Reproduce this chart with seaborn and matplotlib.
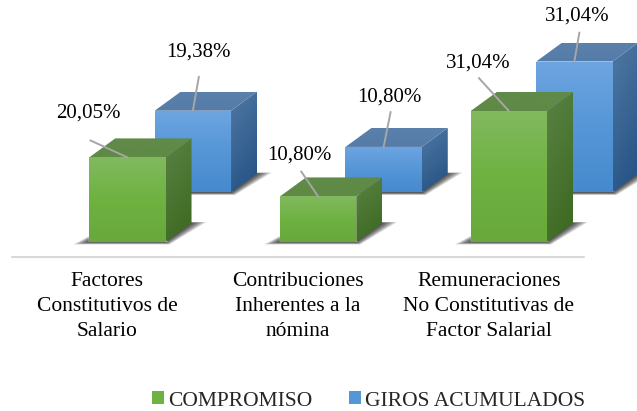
"""
Figura: Compromiso vs Giros Acumulados
Barras estilo 3D sobre seaborn, caras extra calculadas a partir de cada barra.
"""

import numpy as np
import matplotlib
matplotlib.use("Agg")
import matplotlib.pyplot as plt
import seaborn as sns
from matplotlib.colors import LinearSegmentedColormap
from matplotlib.lines import Line2D
from matplotlib.patches import Patch, Polygon
from matplotlib.transforms import ScaledTranslation

categorias = [
    "Factores\nConstitutivos de\nSalario",
    "Contribuciones\nInherentes a la\nnómina",
    "Remuneraciones\nNo Constitutivas de\nFactor Salarial",
]
compromiso = [20.05, 10.80, 31.04]
giros = [19.38, 10.80, 31.04]
series = ["COMPROMISO", "GIROS ACUMULADOS"]

W, H = 637, 411
PX_POR_CAT = 190.75
PX_POR_PCT = 4.22
PROF_X, PROF_Y = 26, 19

VERDE = {
    "frente": ["#82b95f", "#6eb241", "#69a83c"],
    "lado": ["#557f3e", "#3f6b24"],
    "tapa": ["#608a48", "#5f8a46"],
}
AZUL = {
    "frente": ["#6ea5e1", "#5596d7", "#468acd"],
    "lado": ["#4a739f", "#285587"],
    "tapa": ["#5a80ab", "#557ca8"],
}

sns.set_theme(style="white")
plt.rcParams["font.family"] = ["Liberation Serif", "DejaVu Serif"]
plt.rcParams["font.size"] = 15


def crear_ejes(fig, izq, base):
    ax = fig.add_axes([izq / W, (H - base) / H, 3 * PX_POR_CAT / W, 40 * PX_POR_PCT / H])
    ax.patch.set_alpha(0)
    return ax


def cara(ax, puntos, colores, z, mezcla_x=0.0):
    puntos = np.array(puntos)
    cmap = LinearSegmentedColormap.from_list("cara", colores)
    xx, yy = np.meshgrid(np.linspace(0, 1, 64), np.linspace(0, 1, 128))
    valores = np.clip(yy + mezcla_x * (xx - 0.5), 0, 1)
    extent = [puntos[:, 0].min(), puntos[:, 0].max(), puntos[:, 1].min(), puntos[:, 1].max()]
    im = ax.imshow(valores, cmap=cmap, vmin=0, vmax=1, extent=extent, aspect="auto",
                   origin="upper", interpolation="bilinear", zorder=z)
    borde = Polygon(puntos, closed=True, facecolor="none", edgecolor="none", transform=ax.transData)
    ax.add_patch(borde)
    im.set_clip_path(borde)


def dibujar_3d(ax, paleta):
    dx = PROF_X / PX_POR_CAT
    dy = PROF_Y / PX_POR_PCT
    ux = 1 / PX_POR_CAT
    uy = 1 / PX_POR_PCT
    ax.set_autoscale_on(False)
    for bar in list(ax.patches):
        x0, x1 = bar.get_x(), bar.get_x() + bar.get_width()
        top = bar.get_height()

        # sombra en el piso, capas suaves
        for t in np.linspace(1, 0.1, 9):
            sombra = [
                (x0 - 16 * t * ux, -2.5 * t * uy),
                (x1 + 4 * t * ux, -2.5 * t * uy),
                (x1 + dx + 15 * t * ux, dy + t * uy),
                (x0 + dx, dy + t * uy),
            ]
            ax.add_patch(Polygon(sombra, closed=True, facecolor="black", edgecolor="none",
                                 alpha=0.11, zorder=0.5, clip_on=False))

        cara(ax, [(x1, 0), (x1 + dx, dy), (x1 + dx, top + dy), (x1, top)], paleta["lado"], 3, 0.35)
        cara(ax, [(x0, top), (x1, top), (x1 + dx, top + dy), (x0 + dx, top + dy)], paleta["tapa"], 3)
        cara(ax, [(x0, 0), (x1, 0), (x1, top), (x0, top)], paleta["frente"], 4)


def etiquetas(ax, valores, desp_linea, desp_texto):
    for bar, v, dl, dt in zip(ax.patches, valores, desp_linea, desp_texto):
        xy = (bar.get_x() + bar.get_width() / 2, bar.get_height())
        ax.annotate("", xy=xy, xytext=dl, textcoords="offset pixels", zorder=6,
                    arrowprops=dict(arrowstyle="-", color="#a6a6a6", lw=1.4, shrinkA=0, shrinkB=0))
        ax.annotate(f"{v:.2f}%".replace(".", ","), xy=xy, xytext=dt, textcoords="offset pixels",
                    ha="center", va="center", color="black", fontsize=15, zorder=6)


def main():
    fig = plt.figure(figsize=(W / 100, H / 100), dpi=100)

    ax_atras = crear_ejes(fig, 97.5, 192.5)
    ax_frente = crear_ejes(fig, 32, 242)

    sns.barplot(x=categorias, y=giros, color=AZUL["frente"][1], saturation=1, width=0.4, ax=ax_atras)
    sns.barplot(x=categorias, y=compromiso, color=VERDE["frente"][1], saturation=1, width=0.4, ax=ax_frente)

    for ax in (ax_atras, ax_frente):
        ax.set_ylim(0, 40)
        ax.set_xlim(-0.5, 2.5)
        ax.set_ylabel("")
        ax.set_yticks([])
        sns.despine(ax=ax, left=True, bottom=True)

    dibujar_3d(ax_atras, AZUL)
    dibujar_3d(ax_frente, VERDE)

    etiquetas(ax_atras, giros, [(6, 34), (7, 35), (5, 29)], [(6, 59), (6, 50), (3, 45)])
    etiquetas(ax_frente, compromiso, [(-37, 17), (-17, 25), (-30, 33)], [(-39, 44), (-19, 41), (-31, 48)])

    ax_atras.set_xticks([])

    ax_frente.tick_params(axis="x", length=0, pad=21.5, labelsize=15.5, labelcolor="black")
    corrimiento = ScaledTranslation(-20 / 100, 0, fig.dpi_scale_trans)
    for lab in ax_frente.get_xticklabels():
        lab.set_multialignment("center")
        lab.set_linespacing(1.42)
        lab.set_transform(lab.get_transform() + corrimiento)

    # linea del piso
    fig.add_artist(Line2D([12 / W, 584 / W], [1 - 256.5 / H] * 2, color="#d9d9d9", lw=1.5))

    handles = [Patch(facecolor=VERDE["frente"][1], edgecolor="none"),
               Patch(facecolor=AZUL["frente"][1], edgecolor="none")]
    fig.legend(handles, series, loc="lower left", bbox_to_anchor=(152 / W, 0.5 / H), ncol=2,
               frameon=False, fontsize=15.5, handlelength=0.56, handleheight=0.56,
               handletextpad=0.19, columnspacing=1.68, borderpad=0, borderaxespad=0)

    fig.savefig("out.png", dpi=100)
    plt.close(fig)


if __name__ == "__main__":
    main()
